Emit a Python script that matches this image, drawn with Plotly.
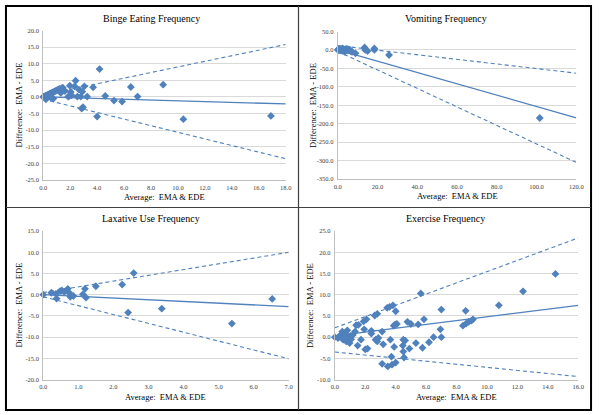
import plotly.graph_objects as go

# ---------------- data ----------------
binge_x = [0, 0.05, 0.1, 0.15, 0.2, 0.2, 0.25, 0.3, 0.35, 0.4, 0.45, 0.5, 0.55, 0.6, 0.7, 0.75, 0.8, 0.9,
           1.0, 1.1, 1.2, 1.3, 1.35, 1.45, 1.6, 1.85, 1.95, 1.97, 2.04, 2.1, 2.33, 2.4, 2.53, 2.65, 2.78,
           2.9, 2.85, 2.95, 3.05, 3.26, 3.7, 4.0, 4.18, 4.6, 5.25, 5.85, 6.5, 7.0, 8.9, 10.4, 16.9]
binge_y = [0, 0.1, 0.2, -0.3, 0.4, -0.7, 0.5, 0.1, 0.7, 0.3, 0.9, 1.0, -0.2, 1.2, 1.4, -0.5, 1.6, 1.8,
           2.0, 2.2, 2.4, 1.2, 2.6, 2.8, 1.8, 0.1, 0.3, 3.4, 1.5, 0.5, 3.2, 4.9, 0.1, 2.2, 0.1,
           1.6, -3.5, -3.1, 3.2, 0.1, 2.9, -5.9, 8.4, 0.3, -1.1, -1.4, 3.0, 0.1, 3.7, -6.7, -5.7]

vomit_x = [0, 0.3, 0.6, 1.0, 1.3, 1.6, 2.0, 2.3, 2.6, 3.0, 3.3, 3.6, 4.0, 4.3, 4.6, 5.0, 5.3, 5.6, 6.0,
           6.5, 7.2, 8.9, 13.5, 13.8, 15.0, 18.4, 18.4, 25.8, 101.6]
vomit_y = [0, 2, -1, 3, 0, -2, 1, 4, -3, 2, 0, -5, 1, 3, -1, 2, 0, -2, 1,
           -3, -5, -9, 7, 0, -3, 4, 0, -13.7, -184.5]

lax_x = [0, 0.23, 0.36, 0.38, 0.48, 0.53, 0.6, 0.7, 0.74, 0.77, 0.86, 1.13, 1.19, 1.22, 1.5,
         2.25, 2.58, 2.42, 3.38, 5.38, 6.53]
lax_y = [0, 0.46, 0.2, -0.9, 0.85, 1.0, 0.7, 1.4, 0.46, -0.5, -0.3, 0.1, 1.4, -0.7, 2.0,
         2.4, 5.1, -4.2, -3.3, -6.8, -1.0]

ex_x = [0, 0.21, 0.32, 0.43, 0.49, 0.54, 0.64, 0.75, 0.82, 0.86, 0.97, 1.03, 1.07, 1.18, 1.33, 1.4,
        1.5, 1.55, 1.72, 1.89, 1.93, 2.0, 2.08, 2.15, 2.4, 2.4, 2.62, 2.68, 2.79, 2.79, 2.86, 3.11,
        3.11, 3.18, 3.44, 3.48, 3.6, 3.65, 3.72, 3.76, 3.82, 3.87, 3.9, 3.97, 4.0, 4.0, 4.08, 4.5,
        4.47, 4.5, 4.55, 4.62, 4.77, 4.9, 5.0, 5.33, 5.48, 5.65, 5.76, 5.86, 6.19, 6.49, 6.94, 7.0,
        7.0, 8.42, 8.6, 8.63, 8.8, 8.98, 9.08, 10.78, 12.37, 14.5]
ex_y = [0, -0.2, 0.3, 0.5, 1.3, -0.6, 0.7, -1.0, 1.6, 0.15, -1.4, 0.3, -0.5, 0.5, 1.3, 2.8,
        -2.0, 2.9, -0.6, 3.7, 1.85, -2.9, 4.2, -2.7, 1.5, 0.85, 5.1, -0.6, 5.5, -1.0, -0.2, 1.3,
        -6.3, -1.7, 6.9, -6.9, 7.15, -0.6, -4.6, -6.5, 7.5, 2.7, -2.3, 3.0, -6.0, 6.1, 3.1, -0.6,
        -2.0, -3.4, -4.8, -0.8, 3.6, -2.7, 3.1, -1.4, 3.0, 10.3, -2.5, 4.2, -1.2, 0.0, 1.85, 6.5,
        0.0, 2.7, 6.2, 3.2, 3.6, 3.9, 4.2, 7.5, 10.8, 14.9]

titles = ["Binge Eating Frequency", "Vomiting Frequency", "Laxative Use Frequency", "Exercise Frequency"]
x_ranges = [(0, 18, 2), (0, 120, 20), (0, 7, 1), (0, 16, 2)]
y_ranges = [(-25, 20, 5), (-350, 50, 50), (-20, 15, 5), (-10, 25, 5)]
# regression lines: (value at x=0, value at x=max) for mean, upper and lower limits
mean_lines = [(0.0, -2.1), (0.0, -184.0), (0.0, -2.8), (0.3, 7.5)]
upper_lines = [(0.6, 15.8), (12.0, -63.0), (0.5, 10.0), (2.2, 23.4)]
lower_lines = [(-0.7, -18.6), (-4.0, -305.0), (-0.5, -15.1), (-3.5, -9.3)]

xs = [binge_x, vomit_x, lax_x, ex_x]
ys = [binge_y, vomit_y, lax_y, ex_y]

# ---------------- layout ----------------
W, H = 600, 415
# plot areas in pixels: (left, right, top, bottom)
areas = [(40, 287, 27, 179), (340, 583, 28, 178), (40, 290, 231, 382), (337, 585, 231, 382)]
title_pos = [(150, 15), (450, 15), (150, 218), (450, 218)]

BLUE = "#4f81bd"
FONT = "Liberation Serif"

fig = go.Figure()
annotations = []
layout_axes = {}

for i in range(4):
    l, r, t, b = areas[i]
    xa = "x" if i == 0 else f"x{i+1}"
    ya = "y" if i == 0 else f"y{i+1}"
    x0, x1, xd = x_ranges[i]
    y0, y1, yd = y_ranges[i]
    xt = [x0 + k * xd for k in range(int(round((x1 - x0) / xd)) + 1)]
    yt = [y0 + k * yd for k in range(int(round((y1 - y0) / yd)) + 1)]

    fig.add_trace(go.Scatter(x=xs[i], y=ys[i], mode="markers", xaxis=xa, yaxis=ya,
                             marker=dict(symbol="diamond", size=6, color=BLUE),
                             cliponaxis=False, showlegend=False))
    fig.add_trace(go.Scatter(x=[x0, x1], y=list(mean_lines[i]), mode="lines", xaxis=xa, yaxis=ya,
                             line=dict(color=BLUE, width=1.3), showlegend=False))
    for ln in (upper_lines[i], lower_lines[i]):
        fig.add_trace(go.Scatter(x=[x0, x1], y=list(ln), mode="lines", xaxis=xa, yaxis=ya,
                                 line=dict(color=BLUE, width=1.1, dash="4px,3px"), showlegend=False))

    xkey = "xaxis" if i == 0 else f"xaxis{i+1}"
    ykey = "yaxis" if i == 0 else f"yaxis{i+1}"
    layout_axes[xkey] = dict(domain=[l / W, r / W], anchor=ya, range=[x0, x1],
                             tickvals=xt, ticktext=[f"{v:.1f}" for v in xt],
                             showgrid=False, zeroline=False, showline=True, linecolor="#bfbfbf",
                             linewidth=1, ticks="", ticklabelstandoff=1,
                             tickfont=dict(family=FONT, size=6.5, color="#404040"), fixedrange=True)
    layout_axes[ykey] = dict(domain=[1 - b / H, 1 - t / H], anchor=xa, range=[y0, y1],
                             tickvals=yt, ticktext=[f"{v:.1f}" for v in yt],
                             showgrid=True, gridcolor="#d9d9d9", gridwidth=1, zeroline=False,
                             showline=True, linecolor="#bfbfbf", linewidth=1,
                             ticks="", ticklabelstandoff=2,
                             tickfont=dict(family=FONT, size=6.5, color="#404040"), fixedrange=True)

    tx, ty = title_pos[i]
    annotations.append(dict(text=titles[i], x=tx / W, y=1 - ty / H, xref="paper", yref="paper",
                            xanchor="center", yanchor="middle", showarrow=False,
                            font=dict(family=FONT, size=10, color="#000000")))
    annotations.append(dict(text="Average:\u00a0 EMA & EDE", x=(l + r) / 2 / W, y=1 - (b + 17.5) / H,
                            xref="paper", yref="paper", xanchor="center", yanchor="middle",
                            showarrow=False, font=dict(family=FONT, size=8.5, color="#000000")))
    annotations.append(dict(text="Difference:\u00a0 EMA - EDE", x=(l - 24.5) / W, y=1 - (t + b) / 2 / H,
                            xref="paper", yref="paper", xanchor="center", yanchor="middle",
                            textangle=-90, showarrow=False,
                            font=dict(family=FONT, size=8.5, color="#000000")))

shapes = [
    dict(type="rect", xref="paper", yref="paper", x0=2 / W, x1=1 - 2 / W, y0=2 / H, y1=1 - 2 / H,
         line=dict(color="#000000", width=2)),
    dict(type="line", xref="paper", yref="paper", x0=300 / W, x1=300 / W, y0=2 / H, y1=1 - 2 / H,
         line=dict(color="#404040", width=1.2)),
    dict(type="line", xref="paper", yref="paper", x0=2 / W, x1=1 - 2 / W, y0=1 - 207 / H, y1=1 - 207 / H,
         line=dict(color="#404040", width=1.2)),
]

fig.update_layout(width=W, height=H, margin=dict(l=0, r=0, t=0, b=0), autosize=False,
                  paper_bgcolor="white", plot_bgcolor="white", showlegend=False,
                  annotations=annotations, shapes=shapes, font=dict(family=FONT),
                  **layout_axes)

fig.write_html("out.html", config={"displayModeBar": False, "staticPlot": True},
               post_script="document.body.style.margin='0';document.body.style.overflow='hidden';")
